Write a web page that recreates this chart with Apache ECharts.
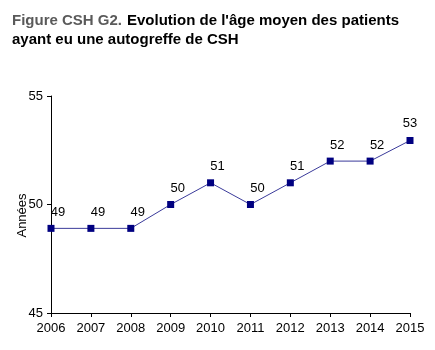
<!DOCTYPE html>
<html style="height: 100%" lang="fr">
<head>
    <meta charset="UTF-8">
    <title>Figure CSH G2</title>
</head>
<body style="height: 100%; margin: 0">
<div id="main1" style="height: 350px; width: 435px"></div>

<script src="https://cdn.jsdelivr.net/npm/echarts@6/dist/echarts.min.js"></script>
<script type="text/javascript">

    // données
    var annees = ['2006', '2007', '2008', '2009', '2010', '2011', '2012', '2013', '2014', '2015'];
    var ageMoyen = [48.9, 48.9, 48.9, 50.0, 51.0, 50.0, 51.0, 52.0, 52.0, 52.95];
    var yTicks = [45, 50, 55];

    var myChart1 = echarts.init(document.getElementById('main1'));
    var option = {
        textStyle: {fontFamily: 'Liberation Sans, Arial, sans-serif'},
        title: {
            text: '{a|Figure CSH G2.} {b|Evolution de l\'âge moyen des patients}\n{b|ayant eu une autogreffe de CSH}',
            left: 7,
            top: 6,
            textStyle: {
                rich: {
                    a: {fontSize: 15, color: '#5a5a5a', fontWeight: 'bold', lineHeight: 19},
                    b: {fontSize: 15, color: '#000', fontWeight: 'bold', lineHeight: 19}
                }
            }
        },
        grid: {left: 51, right: 25, top: 96, bottom: 37, containLabel: false, outerBoundsMode: 'none'},
        xAxis: {
            type: 'category',
            boundaryGap: false,
            data: annees,
            axisLine: {lineStyle: {color: '#000', width: 1}},
            axisTick: {alignWithLabel: true, length: 4, lineStyle: {color: '#000'}},
            axisLabel: {color: '#000', fontSize: 13, margin: 9}
        },
        yAxis: {
            type: 'value',
            min: yTicks[0],
            max: yTicks[yTicks.length - 1],
            interval: 5,
            name: 'Années',
            nameLocation: 'middle',
            nameGap: 22,
            nameMoveOverlap: false,
            nameRotate: 90,
            nameTextStyle: {color: '#000', fontSize: 13, padding: [0, 22, 0, 0]},
            axisLine: {show: true, lineStyle: {color: '#000', width: 1}},
            axisTick: {show: true, length: 4, lineStyle: {color: '#000'}},
            axisLabel: {color: '#000', fontSize: 13, margin: 8},
            splitLine: {show: false}
        },
        series: [{
            type: 'line',
            data: ageMoyen.map(function (v, i) {
                var item = {value: v};
                if (i === ageMoyen.length - 1) {
                    item.label = {offset: [0, -2]};
                }
                return item;
            }),
            symbol: 'rect',
            symbolSize: 7,
            lineStyle: {color: '#3a3a9a', width: 1},
            itemStyle: {color: '#000080'},
            label: {
                show: true,
                position: 'top',
                offset: [7, -1],
                color: '#000',
                fontSize: 13,
                formatter: function (p) { return Math.round(p.value); }
            },
            animation: false
        }]
    };
    myChart1.setOption(option);

</script>
</body>
</html>
